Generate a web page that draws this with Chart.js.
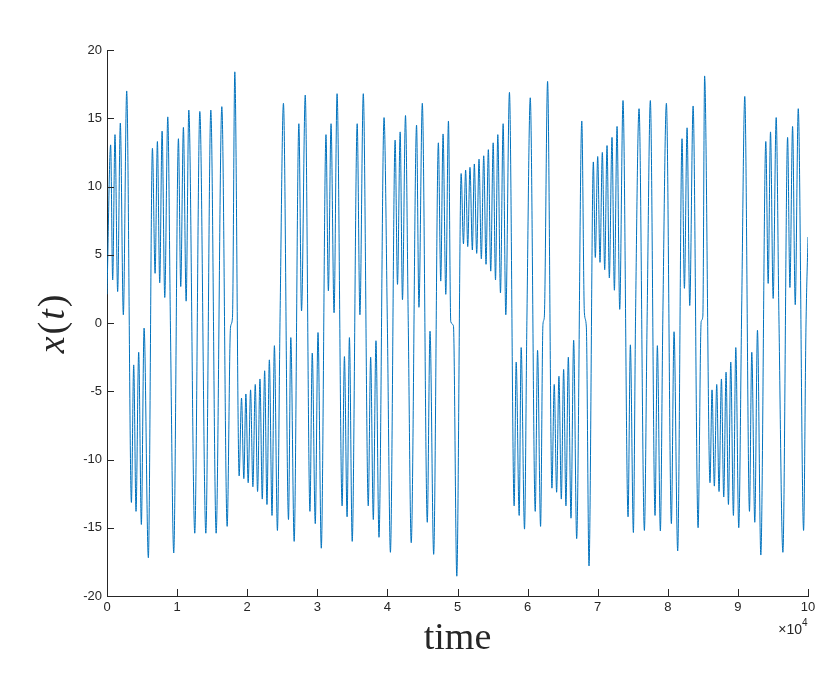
<!DOCTYPE html>
<html>
<head>
<meta charset="utf-8">
<script src="https://cdn.jsdelivr.net/npm/chart.js@4.4.1/dist/chart.umd.min.js"></script>
<style>
  html, body { margin: 0; padding: 0; background: #ffffff; }
  canvas { display: block; }
</style>
</head>
<body>
<canvas id="myChart" width="830" height="679"></canvas>
<script>
// extrema (and a few shoulders), time in raw units
var timeValues = [
    0, 520, 810, 1140, 1520, 1900, 2330, 2810, 3480, 3810, 4140, 4520, 4900, 5290, 5900,
    6480, 6860, 7190, 7520, 7860, 8240, 8670, 9050, 9520,
    10190, 10520, 10900, 11290, 11670, 12520, 13240, 14100, 14810, 15570, 16380, 17140,
    17620, 17900, 18230, 18850, 19190, 19520, 19810, 20140, 20480, 20810, 21150, 21480,
    21820, 22150, 22490, 22820, 23160, 23540, 23880, 24310, 24690, 25170, 25890, 26220,
    26700, 27370, 27750, 28280, 28950, 29280, 29710, 30100, 30570, 31240, 31580, 31960,
    32390, 32820, 33540, 33870, 34250, 34580, 34980, 35690, 36080, 36560, 37270, 37610,
    37990, 38370, 38800, 39520, 40000, 40430, 41100, 41440, 41820, 42150, 42580, 42970,
    43400, 44160, 44500, 44980, 45690, 46080, 46600, 47270, 47610, 47940, 48330, 48710,
    49040, 49420, 49900, 50520, 50850, 51160, 51460, 51780, 52120, 52400, 52740, 53070,
    53400, 53740, 54070, 54400, 54740, 55090, 55420, 55750, 56130, 56510, 56890, 57410,
    58080, 58370, 58800, 59080, 59560, 59900, 60380, 61090, 61420, 61850, 62190, 62380,
    62850, 63470, 63800, 64140, 64470, 64810, 65140, 65470, 65810, 66190, 66570, 67000,
    67730, 68100, 68380, 68760, 69380, 69660, 70000, 70330, 70660, 71000, 71330, 71660,
    72040, 72380, 72760, 73140, 73610, 74330, 74660, 75090, 75400, 75900, 76660, 77050,
    77510, 78180, 78510, 78940, 79290, 79800, 80510, 80890, 81410, 82030, 82370, 82750,
    83130, 83610, 84320, 84760, 85000, 85250, 86020, 86310, 86640, 86980, 87310, 87650,
    87980, 88310, 88650, 88980, 89360, 89700, 90120, 90540, 90980, 91650, 91980, 92410,
    92790, 93270, 93980, 94320, 94650, 95030, 95460, 95850, 96420, 97090, 97420, 97800,
    98180, 98610, 99370, 99710, 100000
];
var xValues = [
    2.1, 13.05, 3.15, 13.8, 2.3, 14.65, 0.6, 17.0, -13.15, -3.07, -13.8, -2.14, -14.76, -0.37, -17.2,
    12.8, 3.64, 13.3, 2.94, 14.06, 1.87, 15.1, -0.3, -16.85,
    13.5, 2.67, 14.33, 1.6, 15.6, -15.4, 15.5, -15.4, 15.6, -15.4, 15.85, -14.9,
    -0.3, 0.4, 18.4, -11.2, -5.5, -11.4, -5.2, -11.7, -4.9, -12.0, -4.5, -12.35,
    -4.1, -12.9, -3.5, -13.3, -2.7, -14.1, -1.66, -15.2, 0.5, 16.1, -14.4, -1.07,
    -16.0, 14.6, 0.88, 16.7, -13.8, -2.2, -14.7, -0.7, -16.5, 13.8, 2.35, 14.6,
    0.75, 16.8, -13.4, -2.46, -14.2, -1.07, -16.0, 14.6, 0.6, 16.8, -13.4, -2.5,
    -14.4, -1.3, -15.7, 15.05, -0.3, -16.8, 13.4, 2.83, 14.0, 1.7, 15.2, 0.2,
    -16.1, 14.5, 1.15, 16.1, -14.6, -0.6, -16.95, 13.2, 3.07, 13.85, 2.1, 14.8,
    0.1, -0.2, -18.55, 10.95, 5.8, 11.2, 5.6, 11.4, 5.35, 11.65, 5.1, 12.0,
    4.7, 12.25, 4.3, 12.7, 3.8, 13.2, 3.15, 13.8, 2.2, 14.6, 0.6, 16.9,
    -13.4, -2.86, -14.1, -1.8, -15.1, 0.2, 16.5, -13.8, -2.0, -14.9, -0.1, 0.4,
    17.7, -12.1, -4.5, -12.4, -3.9, -12.9, -3.4, -13.4, -2.5, -14.3, -1.26, -15.8,
    14.8, 0.75, -0.3, -17.8, 11.8, 4.8, 12.2, 4.44, 12.5, 3.9, 13.0, 3.3,
    13.6, 2.4, 14.4, 1.0, 16.3, -14.2, -1.6, -15.35, 0.5, 15.7, -15.2, 0.3,
    16.3, -14.1, -1.66, -15.24, 0.3, 16.1, -14.7, -0.64, -16.7, 13.5, 2.54, 14.3,
    1.28, 15.9, -15.0, 0.1, 0.5, 18.1, -11.7, -4.9, -11.95, -4.5, -12.35, -4.1,
    -12.75, -3.6, -13.3, -2.86, -14.1, -1.8, -15.0, 1.1, 16.6, -13.8, -2.14, -14.6,
    -0.53, -17.0, 13.3, 2.9, 14.0, 1.8, 15.05, 0.5, -16.8, 13.6, 2.6, 14.4,
    1.34, 15.7, -15.2, -0.3, 6.3
];
var xTicks = [0, 10000, 20000, 30000, 40000, 50000, 60000, 70000, 80000, 90000, 100000];
var yTicks = [-20, -15, -10, -5, 0, 5, 10, 15, 20];

var axisColor = '#262626';
var lineColor = '#0072BD';

var points = [];
for (var i = 0; i < timeValues.length; i++) {
    points.push({ x: timeValues[i], y: xValues[i] });
}

// matlab style inward ticks, axis labels and the x10^4 exponent
var decorations = {
    id: 'decorations',
    afterDraw: function(chart) {
        var ctx = chart.ctx;
        var xs = chart.scales.x;
        var ys = chart.scales.y;
        var area = chart.chartArea;
        ctx.save();
        ctx.strokeStyle = axisColor;
        ctx.lineWidth = 1;
        ctx.beginPath();
        xTicks.forEach(function(v) {
            var px = Math.round(xs.getPixelForValue(v)) + 0.5;
            ctx.moveTo(px, area.bottom);
            ctx.lineTo(px, area.bottom - 7);
        });
        yTicks.forEach(function(v) {
            var py = Math.round(ys.getPixelForValue(v)) + 0.5;
            ctx.moveTo(area.left, py);
            ctx.lineTo(area.left + 7, py);
        });
        ctx.stroke();

        ctx.fillStyle = axisColor;
        // x(t)
        ctx.save();
        ctx.translate(54, (area.top + area.bottom) / 2);
        ctx.rotate(-Math.PI / 2);
        ctx.textBaseline = 'middle';
        var parts = [
            ['x', 'italic 38px "Liberation Serif"'],
            ['(', '38px "Liberation Serif"'],
            ['t', 'italic 38px "Liberation Serif"'],
            [')', '38px "Liberation Serif"']
        ];
        var total = 0;
        parts.forEach(function(p) { ctx.font = p[1]; total += ctx.measureText(p[0]).width + 2; });
        var cx = -total / 2;
        ctx.textAlign = 'left';
        parts.forEach(function(p) {
            ctx.font = p[1];
            ctx.fillText(p[0], cx, 0);
            cx += ctx.measureText(p[0]).width + 2;
        });
        ctx.restore();

        // time
        ctx.font = '38px "Liberation Serif"';
        ctx.textAlign = 'center';
        ctx.textBaseline = 'alphabetic';
        ctx.fillText('time', (area.left + area.right) / 2, 649);

        // exponent
        ctx.font = '14px "Liberation Sans"';
        ctx.textAlign = 'right';
        ctx.fillText('\u00d710', area.right - 6, 634);
        ctx.font = '10px "Liberation Sans"';
        ctx.textAlign = 'left';
        ctx.fillText('4', area.right - 6, 626);
        ctx.restore();
    }
};

var ctx = document.getElementById('myChart').getContext('2d');
var chart = new Chart(ctx, {
    type: 'line',
    data: {
        datasets: [{
            data: points,
            borderColor: lineColor,
            borderWidth: 1,
            pointRadius: 0,
            fill: false,
            cubicInterpolationMode: 'monotone'
        }]
    },
    options: {
        responsive: false,
        devicePixelRatio: 1,
        animation: false,
        layout: { padding: { top: 50, right: 22, bottom: 0, left: 0 } },
        plugins: {
            legend: { display: false },
            tooltip: { enabled: false }
        },
        scales: {
            x: {
                type: 'linear',
                min: 0,
                max: 100000,
                afterFit: function(s) { s.height = 83; },
                afterBuildTicks: function(s) {
                    s.ticks = xTicks.map(function(v) { return { value: v }; });
                },
                ticks: {
                    color: axisColor,
                    font: { family: 'Liberation Sans', size: 13 },
                    padding: 4,
                    maxRotation: 0,
                    callback: function(v) { return v / 10000; }
                },
                grid: { display: true, drawOnChartArea: false, drawTicks: false },
                border: { display: true, color: axisColor, width: 1 }
            },
            y: {
                min: -20,
                max: 20,
                afterFit: function(s) { s.width = 107; },
                afterBuildTicks: function(s) {
                    s.ticks = yTicks.map(function(v) { return { value: v }; });
                },
                ticks: {
                    color: axisColor,
                    font: { family: 'Liberation Sans', size: 13 },
                    padding: 5
                },
                grid: { display: true, drawOnChartArea: false, drawTicks: false },
                border: { display: true, color: axisColor, width: 1 }
            }
        }
    },
    plugins: [decorations]
});
</script>
</body>
</html>
